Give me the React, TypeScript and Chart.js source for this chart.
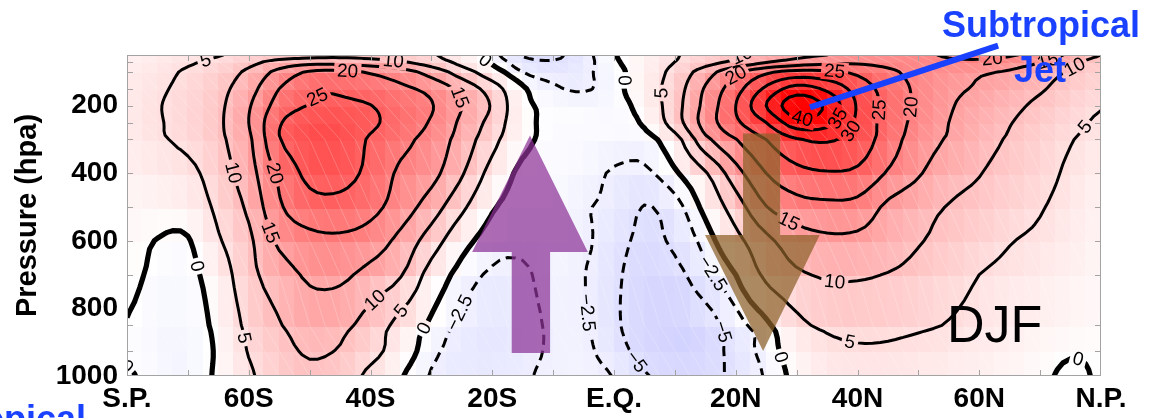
import React, { useEffect, useRef } from 'react';
import { Chart, registerables } from 'chart.js';

Chart.register(...registerables);

// ---------------- data ----------------
const latitudes = [-80, -75, -70, -65, -60, -55, -50, -45, -40, -35, -30, -25, -20, -15, -10, -5, 0, 5, 10, 15, 20, 25, 30, 35, 40, 45, 50, 55, 60, 65, 70, 75, 80];
const pressureLevels = [1000, 925, 850, 700, 600, 500, 400, 300, 250, 200, 150, 100, 70, 50];

// zonal-mean zonal wind (m/s), one row per pressure level, columns follow `latitudes`
const u1000 = [0.3, -1, -1.5, 0.6, 4.3, 7.5, 9.2, 7.8, 3.8, 0.3, -2.7, -3.3, -3.5, -2.8, -2, -1.8, -2.6, -4.8, -5.5, -5.5, -4.5, -2.2, 1, 3, 3.5, 3.6, 3.2, 2.8, 2.2, 1.5, 0.6, -0.5, 0.3];
const u925 = [-0.5, -1.2, -1.5, 0.5, 5.3, 8.5, 10.5, 9.7, 6.8, 2.4, -1.8, -3.3, -3.8, -3.2, -2.2, -2, -3.8, -6, -6.8, -6.3, -4, -1.5, 2, 4, 4.6, 4.5, 4, 3.5, 2.8, 2, 1.2, 0.3, 0.4];
const u850 = [-0.1, -1.2, -1.4, 1, 6.2, 9.7, 12, 11.2, 8, 3.3, -0.6, -3, -3.8, -3.2, -2.2, -2.2, -4.5, -6.5, -7, -6.2, -3.5, -0.7, 3.8, 5.8, 6.3, 6.2, 5.6, 4.8, 3.8, 2.8, 2, 1.4, 0.8];
const u700 = [0.6, -0.5, -0.8, 2.2, 8.5, 12.5, 15.8, 16, 13.3, 10.3, 3, -1.2, -2.8, -2.8, -1.8, -2.4, -4.5, -6, -5.7, -3.3, 0, 6, 9.2, 10.5, 10.5, 9.8, 8.5, 6.8, 5, 4, 3.2, 2.3, 1.3];
const u600 = [1, -0.1, -0.3, 4.5, 9, 16, 18.5, 19, 17.5, 13.5, 7.5, 1.5, -1.5, -2, -1.6, -2, -4, -5.5, -4.5, -1.5, 3.5, 8.8, 12.5, 14, 13.8, 12.3, 10.3, 8.8, 7, 5.2, 4.3, 3, 1.8];
const u500 = [1.3, 1.5, 2.3, 6, 11, 19.3, 23, 23.5, 21.5, 17.5, 12.5, 6, 0.4, -1, -1, -2.3, -3, -5.1, -3.5, 1, 7.5, 14.8, 18, 18.8, 18.3, 14, 11.5, 9.8, 8.5, 6.8, 5.3, 3.5, 2];
const u400 = [2, 3, 3.8, 7.5, 13, 21, 26.2, 26.4, 23.8, 19, 16.5, 10.5, 3.2, -0.8, -0.8, -1.4, -2.8, -3, -0.5, 4.5, 13, 20, 23.5, 24.6, 24, 19.5, 15.5, 12, 10.2, 8, 6.5, 4.2, 2.5];
const u300 = [3, 4.5, 6, 9, 14, 24.7, 27.5, 27.5, 24.5, 21.5, 18, 13, 6.5, 1, -0.7, -0.8, -1, -1.2, 3, 13.5, 19.8, 25, 29.5, 30.5, 28, 22.5, 17.5, 14.5, 11.8, 9.5, 7.3, 5.2, 3.8];
const u250 = [3.3, 4.7, 6.3, 9.2, 15, 24.5, 27.8, 28, 25.8, 23, 19.5, 14, 8.2, 1.2, -0.5, -0.3, -0.8, 0.5, 7.5, 17, 24, 30, 38, 36.5, 29, 23, 18.5, 15, 12.3, 10.2, 8, 6, 4.5];
const u200 = [3.4, 4.8, 6.3, 9, 14.5, 22, 25.2, 25.5, 25.1, 22.5, 20.3, 15, 9.5, 1, -0.3, -0.8, -1, 1.5, 8, 16.5, 25, 35, 43, 39, 29.5, 23.5, 19, 15.5, 13.2, 11.2, 9, 6.8, 5.2];
const u150 = [3.3, 4.5, 6, 8.5, 13, 20, 24, 24.5, 23, 21, 18.5, 13.5, 7.5, 0.5, -2, -2.8, -1, 2.5, 7.5, 15.5, 23, 31, 37, 34, 28, 23, 19, 16, 14.5, 12.5, 10.5, 8, 6];
const u100 = [3, 4, 5.5, 7.5, 11, 16.5, 20.5, 21, 19.5, 17, 13, 7.5, 2, -2.5, -3.5, -3, -1, 2, 6.5, 12.5, 19, 24, 26.5, 26, 24, 21, 18.5, 16.5, 15.5, 14.5, 12, 9.5, 7];
const u70 = [2.5, 3.5, 4.5, 6, 8.5, 11.5, 13, 13, 12, 10.3, 7.5, 3.5, -0.5, -4, -4.8, -3.5, -0.5, 2, 5, 8, 11, 14.5, 17, 18.5, 19, 18.5, 18.5, 19, 19, 17.5, 15.3, 11.5, 8];
const u50 = [2, 3, 3.8, 4.8, 6.2, 7.5, 8.5, 8.8, 8.5, 7.5, 5.5, 2.5, -1.5, -5.2, -5.5, -3.5, -0.2, 2, 4.6, 7, 9.5, 12, 14, 15, 16, 17.5, 19, 20.5, 21.2, 20.5, 18, 14, 10];

const windRows = [u1000, u925, u850, u700, u600, u500, u400, u300, u250, u200, u150, u100, u70, u50];

const contourLevels = [-5, -2.5, 0, 5, 10, 15, 20, 25, 30, 35, 40];
const colorLimit = 40;

const latTickValues = [-80, -60, -40, -20, 0, 20, 40, 60, 80];
const latTickLabels = ['S.P.', '60S', '40S', '20S', 'E.Q.', '20N', '40N', '60N', 'N.P.'];
const latMinorTicks = [-70, -60, -50, -40, -30, -20, -10, 0, 10, 20, 30, 40, 50, 60, 70];
const pressureTickValues = [200, 400, 600, 800, 1000];
const pressureTickLabels = ['200', '400', '600', '800', '1000'];
const pressureMinorTicks = [925, 850, 700, 600, 500, 400, 300, 250, 200, 150, 100, 70];

// contour label anchors: [level, latitude, pressure]
const labelLevels = [5, 10, 20, 15, 0, 5, 25, 20, 15, 10, 10, 5, 0, -2.5, 0, -2.5, -5, -2.5, -5, 0, 0, 5, 5, 10, 15, 40, 35, 30, 25, 25, 20, 20, 10, 15, 20, 15, 10, 5, 0, 0];
const labelLats = [-66.9, -62.6, -55.4, -56.2, -68, -61.4, -48.3, -43.4, -25.3, -36.3, -40.4, -36, -31.3, -25.9, -21, -2.8, 5.4, 15.5, 17.8, 27.3, 2.1, 7.8, 38.8, 36.6, 27.8, 31, 36, 38.2, 36, 43.7, 48.3, 20.1, 21.8, 41.5, 62.3, 71.1, 76.6, 78.2, 76, -80];
const labelPressures = [75, 396, 412, 574, 678, 890, 165, 110, 170, 74, 746, 785, 854, 824, 70, 815, 930, 700, 860, 935, 120, 164, 893, 711, 549, 219, 228, 268, 105, 219, 205, 105, 66, 62, 61, 76, 100, 273, 960, 975];

// annotation arrows, in (latitude, pressure)
const risingArrow = { tipLat: -13.8, tipP: 288, headP: 633, headLeft: -23.3, headRight: -4.3, shaftLeft: -16.8, shaftRight: -10.5, tailP: 932 };
const sinkingArrow = { tipLat: 24.5, tipP: 926, headP: 583, headLeft: 14.95, headRight: 33.8, shaftLeft: 21.2, shaftRight: 27.3, tailP: 282 };
const jetPointer = { fromLat: 32.2, fromP: 205, toLat: 63.1, toP: 22 };

// ---------------- helpers ----------------
function catmull(p0: number, p1: number, p2: number, p3: number, t: number) {
  const t2 = t * t, t3 = t2 * t;
  return 0.5 * (2 * p1 + (-p0 + p2) * t + (2 * p0 - 5 * p1 + 4 * p2 - p3) * t2 + (-p0 + 3 * p1 - 3 * p2 + p3) * t3);
}
function refineSmooth(arr: number[], f: number) {
  const n = arr.length;
  const out: number[] = [];
  for (let i = 0; i < n - 1; i++) {
    const p0 = arr[Math.max(0, i - 1)], p1 = arr[i], p2 = arr[i + 1], p3 = arr[Math.min(n - 1, i + 2)];
    for (let k = 0; k < f; k++) out.push(catmull(p0, p1, p2, p3, k / f));
  }
  out.push(arr[n - 1]);
  return out;
}
function refineLinear(arr: number[], f: number) {
  const out: number[] = [];
  for (let i = 0; i < arr.length - 1; i++) for (let k = 0; k < f; k++) out.push(arr[i] + ((arr[i + 1] - arr[i]) * k) / f);
  out.push(arr[arr.length - 1]);
  return out;
}
function refineGrid(rows: number[][], fc: number, fr: number) {
  const wide = rows.map((r) => refineSmooth(r, fc));
  const ncol = wide[0].length;
  const cols: number[][] = [];
  for (let c = 0; c < ncol; c++) cols.push(refineSmooth(wide.map((r) => r[c]), fr));
  const nrow = cols[0].length;
  const grid: number[][] = [];
  for (let r = 0; r < nrow; r++) grid.push(cols.map((col) => col[r]));
  return grid;
}
function windColor(v: number) {
  const t = Math.max(-1, Math.min(1, v / colorLimit));
  if (t >= 0) {
    const g = Math.round(255 * (1 - t));
    return `rgb(255,${g},${g})`;
  }
  const g = Math.round(255 * (1 + t));
  return `rgb(${g},${g},255)`;
}

type Pt = { x: number; y: number };

function traceContours(G: number[][], X: number[], Y: number[], level: number): Pt[][] {
  const nr = G.length, nc = G[0].length;
  const segs: { k1: string; k2: string; p1: Pt; p2: Pt }[] = [];
  const above = (r: number, c: number) => G[r][c] >= level;
  const pt = (r1: number, c1: number, r2: number, c2: number): Pt => {
    const v1 = G[r1][c1], v2 = G[r2][c2];
    const t = (level - v1) / (v2 - v1);
    return { x: X[c1] + (X[c2] - X[c1]) * t, y: Y[r1] + (Y[r2] - Y[r1]) * t };
  };
  for (let r = 0; r < nr - 1; r++) {
    for (let c = 0; c < nc - 1; c++) {
      const edges = [
        { key: `h${r}_${c}`, a: [r, c], b: [r, c + 1] },
        { key: `v${r}_${c + 1}`, a: [r, c + 1], b: [r + 1, c + 1] },
        { key: `h${r + 1}_${c}`, a: [r + 1, c + 1], b: [r + 1, c] },
        { key: `v${r}_${c}`, a: [r + 1, c], b: [r, c] },
      ];
      const cross: number[] = [];
      for (let e = 0; e < 4; e++) {
        const E = edges[e];
        if (above(E.a[0], E.a[1]) !== above(E.b[0], E.b[1])) cross.push(e);
      }
      const add = (e1: number, e2: number) => {
        const A = edges[e1], B = edges[e2];
        segs.push({ k1: A.key, k2: B.key, p1: pt(A.a[0], A.a[1], A.b[0], A.b[1]), p2: pt(B.a[0], B.a[1], B.b[0], B.b[1]) });
      };
      if (cross.length === 2) add(cross[0], cross[1]);
      else if (cross.length === 4) {
        const center = (G[r][c] + G[r][c + 1] + G[r + 1][c + 1] + G[r + 1][c]) / 4;
        if ((center >= level) === above(r, c)) {
          add(0, 1);
          add(2, 3);
        } else {
          add(3, 0);
          add(1, 2);
        }
      }
    }
  }
  const byKey = new Map<string, number[]>();
  segs.forEach((s, i) => {
    if (!byKey.has(s.k1)) byKey.set(s.k1, []);
    if (!byKey.has(s.k2)) byKey.set(s.k2, []);
    byKey.get(s.k1)!.push(i);
    byKey.get(s.k2)!.push(i);
  });
  const used = new Array(segs.length).fill(false);
  const lines: Pt[][] = [];
  for (let i = 0; i < segs.length; i++) {
    if (used[i]) continue;
    used[i] = true;
    const line: Pt[] = [segs[i].p1, segs[i].p2];
    let key = segs[i].k2;
    for (;;) {
      const j = (byKey.get(key) || []).find((q) => !used[q]);
      if (j === undefined) break;
      used[j] = true;
      const s = segs[j];
      if (s.k1 === key) { line.push(s.p2); key = s.k2; } else { line.push(s.p1); key = s.k1; }
    }
    key = segs[i].k1;
    for (;;) {
      const j = (byKey.get(key) || []).find((q) => !used[q]);
      if (j === undefined) break;
      used[j] = true;
      const s = segs[j];
      if (s.k1 === key) { line.unshift(s.p2); key = s.k2; } else { line.unshift(s.p1); key = s.k1; }
    }
    lines.push(line);
  }
  return lines;
}

function levelText(level: number) {
  return level < 0 ? '\u2212' + String(-level) : String(level);
}

const labelFont = '19px "Liberation Sans", Arial, sans-serif';

const windPlugin = {
  id: 'windField',
  beforeDatasetsDraw(chart: any) {
    const { ctx, chartArea: a } = chart;
    const xs = chart.scales.x, ys = chart.scales.y;
    const px = (lat: number) => xs.getPixelForValue(lat);
    const py = (p: number) => ys.getPixelForValue(p);

    ctx.save();
    ctx.beginPath();
    ctx.rect(a.left, a.top, a.right - a.left, a.bottom - a.top);
    ctx.clip();

    // shaded cells (2.5 deg x pressure level)
    const heatLat = refineLinear(latitudes, 2);
    const heatRows = windRows.map((r) => refineSmooth(r, 2));
    for (let k = 0; k < pressureLevels.length - 1; k++) {
      const y0 = py(pressureLevels[k]), y1 = py(pressureLevels[k + 1]);
      for (let j = 0; j < heatLat.length - 1; j++) {
        const v = (heatRows[k][j] + heatRows[k][j + 1] + heatRows[k + 1][j] + heatRows[k + 1][j + 1]) / 4;
        const x0 = px(heatLat[j]), x1 = px(heatLat[j + 1]);
        ctx.fillStyle = windColor(v);
        ctx.fillRect(Math.floor(x0), Math.floor(y1), Math.ceil(x1) - Math.floor(x0) + 1, Math.ceil(y0) - Math.floor(y1) + 1);
      }
    }
    // faint white diagonal streaks like the original rendering
    ctx.strokeStyle = 'rgba(255,255,255,0.35)';
    ctx.lineWidth = 0.6;
    for (let k = 0; k < pressureLevels.length - 1; k++) {
      const y0 = py(pressureLevels[k]), y1 = py(pressureLevels[k + 1]);
      for (let j = 0; j < heatLat.length - 1; j++) {
        const x0 = px(heatLat[j]), x1 = px(heatLat[j + 1]);
        ctx.beginPath();
        ctx.moveTo(x0, y1);
        ctx.lineTo(x1, y0);
        ctx.stroke();
      }
    }

    // contours
    const F = 4;
    const G = refineGrid(windRows, F, F);
    const X = refineLinear(latitudes, F).map(px);
    const Y = refineLinear(pressureLevels, F).map(py);
    const linesByLevel = contourLevels.map((lv) => traceContours(G, X, Y, lv));

    // labels
    ctx.font = labelFont;
    const labels: { cx: number; cy: number; ang: number; text: string; w: number }[] = [];
    for (let i = 0; i < labelLevels.length; i++) {
      const li = contourLevels.indexOf(labelLevels[i]);
      if (li < 0) continue;
      const hx = px(labelLats[i]), hy = py(labelPressures[i]);
      let best = Infinity, bl = -1, bi = -1;
      linesByLevel[li].forEach((line, lIdx) => {
        line.forEach((p, pIdx) => {
          const d = (p.x - hx) ** 2 + (p.y - hy) ** 2;
          if (d < best) { best = d; bl = lIdx; bi = pIdx; }
        });
      });
      if (bl < 0 || best > 35 * 35) continue;
      const line = linesByLevel[li][bl];
      const c = line[bi];
      let b = bi, f = bi;
      while (b > 0 && Math.hypot(line[b].x - c.x, line[b].y - c.y) < 10) b--;
      while (f < line.length - 1 && Math.hypot(line[f].x - c.x, line[f].y - c.y) < 10) f++;
      let ang = Math.atan2(line[f].y - line[b].y, line[f].x - line[b].x);
      if (ang > Math.PI / 2) ang -= Math.PI;
      if (ang < -Math.PI / 2) ang += Math.PI;
      const text = levelText(labelLevels[i]);
      labels.push({ cx: c.x, cy: c.y, ang, text, w: ctx.measureText(text).width });
    }

    ctx.save();
    ctx.beginPath();
    ctx.rect(a.left, a.top, a.right - a.left, a.bottom - a.top);
    labels.forEach((L) => {
      const hw = L.w / 2 + 3, hh = 9;
      const cs = Math.cos(L.ang), sn = Math.sin(L.ang);
      const pts = [
        [-hw, -hh], [hw, -hh], [hw, hh], [-hw, hh],
      ].map(([u, v]) => [L.cx + u * cs - v * sn, L.cy + u * sn + v * cs]);
      ctx.moveTo(pts[0][0], pts[0][1]);
      for (let q = 1; q < 4; q++) ctx.lineTo(pts[q][0], pts[q][1]);
      ctx.closePath();
    });
    ctx.clip('evenodd');
    ctx.strokeStyle = '#000';
    ctx.lineJoin = 'round';
    contourLevels.forEach((lv, li) => {
      if (lv < 0) { ctx.setLineDash([10, 6]); ctx.lineWidth = 3; ctx.lineCap = 'butt'; }
      else if (lv === 0) { ctx.setLineDash([]); ctx.lineWidth = 5.2; ctx.lineCap = 'butt'; }
      else { ctx.setLineDash([]); ctx.lineWidth = 3; ctx.lineCap = 'round'; }
      linesByLevel[li].forEach((line) => {
        ctx.beginPath();
        line.forEach((p, i) => (i ? ctx.lineTo(p.x, p.y) : ctx.moveTo(p.x, p.y)));
        ctx.stroke();
      });
    });
    ctx.setLineDash([]);
    ctx.restore();

    ctx.fillStyle = '#000';
    ctx.textAlign = 'center';
    ctx.textBaseline = 'middle';
    ctx.font = labelFont;
    labels.forEach((L) => {
      ctx.save();
      ctx.translate(L.cx, L.cy);
      ctx.rotate(L.ang);
      ctx.fillText(L.text, 0, 1);
      ctx.restore();
    });
    ctx.restore();
  },
  afterDraw(chart: any) {
    const { ctx, chartArea: a } = chart;
    const xs = chart.scales.x, ys = chart.scales.y;
    const px = (lat: number) => xs.getPixelForValue(lat);
    const py = (p: number) => ys.getPixelForValue(p);
    ctx.save();
    // frame + inward ticks
    ctx.strokeStyle = '#a3a3a3';
    ctx.lineWidth = 1;
    ctx.beginPath();
    latMinorTicks.forEach((lat) => {
      const x = Math.round(px(lat)) + 0.5;
      ctx.moveTo(x, a.bottom); ctx.lineTo(x, a.bottom - 6);
      ctx.moveTo(x, a.top); ctx.lineTo(x, a.top + 6);
    });
    pressureMinorTicks.forEach((p) => {
      const y = Math.round(py(p)) + 0.5;
      ctx.moveTo(a.left, y); ctx.lineTo(a.left + 6, y);
      ctx.moveTo(a.right, y); ctx.lineTo(a.right - 6, y);
    });
    ctx.stroke();
    ctx.strokeRect(a.left + 0.5, a.top + 0.5, a.right - a.left - 1, a.bottom - a.top - 1);

    // arrows
    const drawArrow = (A: any, fill: string) => {
      ctx.fillStyle = fill;
      ctx.beginPath();
      ctx.moveTo(px(A.tipLat), py(A.tipP));
      ctx.lineTo(px(A.headRight), py(A.headP));
      ctx.lineTo(px(A.shaftRight), py(A.headP));
      ctx.lineTo(px(A.shaftRight), py(A.tailP));
      ctx.lineTo(px(A.shaftLeft), py(A.tailP));
      ctx.lineTo(px(A.shaftLeft), py(A.headP));
      ctx.lineTo(px(A.headLeft), py(A.headP));
      ctx.closePath();
      ctx.fill();
    };
    drawArrow(risingArrow, 'rgba(140,50,150,0.72)');
    drawArrow(sinkingArrow, 'rgba(140,95,40,0.72)');

    // jet pointer and texts
    const blue = 'rgb(25,65,255)';
    ctx.strokeStyle = blue;
    ctx.lineWidth = 6;
    ctx.lineCap = 'butt';
    ctx.beginPath();
    ctx.moveTo(px(jetPointer.fromLat), py(jetPointer.fromP));
    ctx.lineTo(px(jetPointer.toLat), py(jetPointer.toP));
    ctx.stroke();

    ctx.fillStyle = blue;
    ctx.font = 'bold 36px "Liberation Sans", Arial, sans-serif';
    ctx.textAlign = 'center';
    ctx.textBaseline = 'alphabetic';
    ctx.fillText('Subtropical', 1041, 37);
    ctx.fillText('Jet', 1040, 82);
    ctx.textAlign = 'left';
    ctx.fillText('Tropical', -52, 431);

    ctx.fillStyle = '#000';
    ctx.font = '52px "Liberation Sans", Arial, sans-serif';
    ctx.fillText('DJF', 947, 342);
    ctx.restore();
  },
};

const tickFont = { family: '"Liberation Sans", Arial, sans-serif', size: 28, weight: 'bold' as const };
const titleFont = { family: '"Liberation Sans", Arial, sans-serif', size: 29, weight: 'bold' as const };

export default function App() {
  const ref = useRef<HTMLCanvasElement>(null);
  useEffect(() => {
    const canvas = ref.current;
    if (!canvas) return;
    const chart = new Chart(canvas, {
      type: 'scatter',
      data: { datasets: [] },
      options: {
        animation: false,
        responsive: false,
        maintainAspectRatio: false,
        layout: { padding: { left: 0, top: 55, right: 53, bottom: 0 } },
        plugins: { legend: { display: false }, tooltip: { enabled: false } },
        scales: {
          x: {
            type: 'linear',
            min: -80,
            max: 80,
            grid: { display: false, drawTicks: false },
            border: { display: false },
            afterBuildTicks: (s: any) => { s.ticks = latTickValues.map((v) => ({ value: v })); },
            afterFit: (s: any) => { s.height = 42; },
            ticks: {
              autoSkip: false,
              maxRotation: 0,
              color: '#000',
              padding: 6,
              font: tickFont,
              callback: (_v: any, i: number) => latTickLabels[i],
            },
          },
          y: {
            type: 'linear',
            reverse: true,
            min: 50,
            max: 1000,
            grid: { display: false, drawTicks: false },
            border: { display: false },
            afterBuildTicks: (s: any) => { s.ticks = pressureTickValues.map((v) => ({ value: v })); },
            afterFit: (s: any) => { s.width = 127; },
            ticks: {
              autoSkip: false,
              color: '#000',
              padding: 9,
              font: tickFont,
              callback: (_v: any, i: number) => pressureTickLabels[i],
            },
            title: {
              display: true,
              text: 'Pressure (hpa)',
              color: '#000',
              font: titleFont,
              padding: { top: 11, bottom: 0 },
            },
          },
        },
      },
      plugins: [windPlugin],
    } as any);
    return () => chart.destroy();
  }, []);
  return (
    <div style={{ position: 'fixed', left: 0, top: 0, width: 1154, height: 418, background: '#fff' }}>
      <canvas ref={ref} width={1154} height={418} style={{ display: 'block', width: 1154, height: 418 }} />
    </div>
  );
}
